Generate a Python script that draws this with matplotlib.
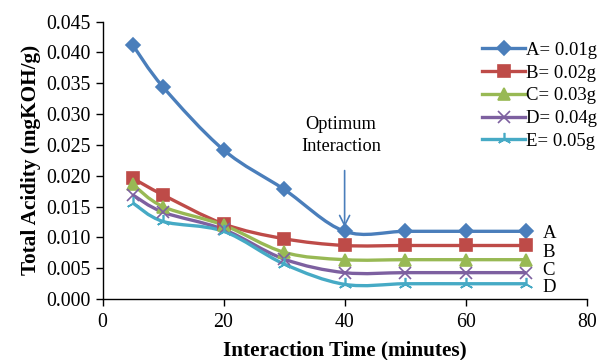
import matplotlib.pyplot as plt
from matplotlib.path import Path
from matplotlib.patches import PathPatch

plt.rcParams['font.family'] = ['Liberation Serif', 'DejaVu Serif']

time = [5, 10, 20, 30, 40, 50, 60, 70]
acid_a = [0.0412, 0.0344, 0.0242, 0.0178, 0.0110, 0.0110, 0.0110, 0.0110]
acid_b = [0.0196, 0.0169, 0.0122, 0.0098, 0.0087, 0.0087, 0.0087, 0.0087]
acid_c = [0.0186, 0.0150, 0.0120, 0.0076, 0.0064, 0.0064, 0.0064, 0.0064]
acid_d = [0.0169, 0.0141, 0.0113, 0.0065, 0.0043, 0.0043, 0.0043, 0.0043]
acid_e = [0.0156, 0.0126, 0.0110, 0.0057, 0.0024, 0.0025, 0.0025, 0.0025]
names = ["A= 0.01g", "B= 0.02g", "C= 0.03g", "D= 0.04g", "E= 0.05g"]
end_labels = ["A", "B", "C", "D"]
end_label_y = [0.0107, 0.0076, 0.0047, 0.0019]

colors = ["#4A7EBB", "#BE4B48", "#98B954", "#7D60A0", "#46AAC5"]
markers = ["D", "s", "^", "x", (3, 2, 0)]
msizes = [7, 9, 8.5, 8.5, 9.5]


def smooth_path(xs, ys):
    # Excel style smoothed line: cubic bezier, catmull-rom tangents
    pts = list(zip(xs, ys))
    verts = [pts[0]]
    codes = [Path.MOVETO]
    n = len(pts)
    for i in range(n - 1):
        p0 = pts[max(i - 1, 0)]
        p1 = pts[i]
        p2 = pts[i + 1]
        p3 = pts[min(i + 2, n - 1)]
        c1 = (p1[0] + (p2[0] - p0[0]) / 6, p1[1] + (p2[1] - p0[1]) / 6)
        c2 = (p2[0] - (p3[0] - p1[0]) / 6, p2[1] - (p3[1] - p1[1]) / 6)
        verts += [c1, c2, p2]
        codes += [Path.CURVE4] * 3
    return Path(verts, codes)


fig = plt.figure(figsize=(6.03, 3.6), dpi=100)
ax = fig.add_axes([0.170, 0.169, 0.803, 0.771])

series = [acid_a, acid_b, acid_c, acid_d, acid_e]
for vals, name, col, mk, ms in zip(series, names, colors, markers, msizes):
    ax.add_patch(PathPatch(smooth_path(time, vals), facecolor="none",
                           edgecolor=col, lw=2.4, zorder=2))
    ax.plot(time, vals, linestyle="none", marker=mk, color=col, ms=ms,
            mew=1.2, zorder=3)
    ax.plot([], [], color=col, lw=2.4, marker=mk, ms=ms, mew=1.2, label=name)

for lab, y in zip(end_labels, end_label_y):
    ax.text(time[-1] + 2.7, y, lab, fontsize=13.5, va="center")

ax.annotate("", xy=(time[4], acid_a[4] + 0.0002), xytext=(time[4], 0.0213),
            arrowprops=dict(arrowstyle="->", color="#4A7EBB", lw=1.2,
                            mutation_scale=18))
ax.text(time[4] - 0.6, 0.0265, "Optimum\nInteraction", ha="center",
        va="center", fontsize=13.2, linespacing=1.4)

ax.set_xlim(0, 80)
ax.set_ylim(0, 0.045)
ax.set_xticks([0, 20, 40, 60, 80])
ax.set_yticks([i * 0.005 for i in range(10)])
ax.set_yticklabels([f"{i * 0.005:.3f}" for i in range(10)])
ax.tick_params(labelsize=14.3, direction="out", length=5, width=1)
ax.tick_params(axis="x", pad=5)
ax.spines["top"].set_visible(False)
ax.spines["right"].set_visible(False)
ax.spines["left"].set_linewidth(1)
ax.spines["bottom"].set_linewidth(1)

ax.set_xlabel("Interaction Time (minutes)", fontsize=15.3, fontweight="bold",
              labelpad=6)
ax.set_ylabel("Total Acidity (mgKOH/g)", fontsize=15.3, fontweight="bold",
              labelpad=4)

fig.legend(loc="upper right", bbox_to_anchor=(1.003, 0.905), frameon=False,
           fontsize=13.5, handlelength=2.3, handletextpad=0.05,
           labelspacing=0.3, borderaxespad=0)

fig.savefig("out.png", dpi=100)
